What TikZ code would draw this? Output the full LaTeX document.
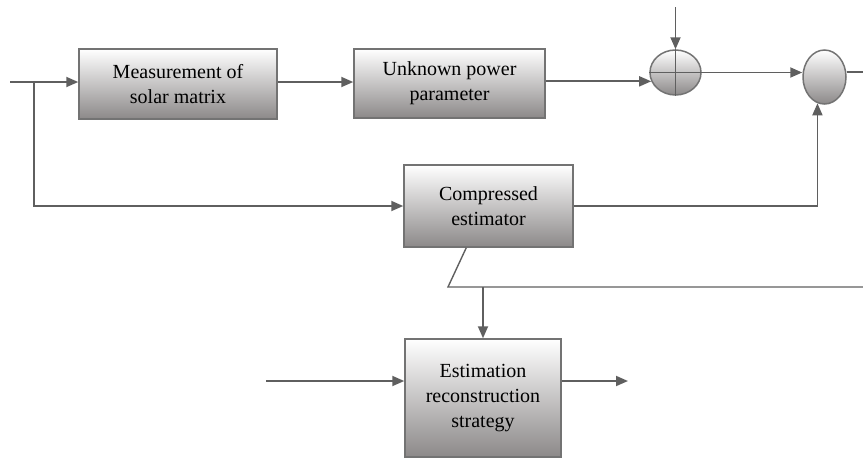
\documentclass[tikz,border=0pt]{standalone}
\usepackage{fontspec}
\setmainfont{Liberation Serif}
\usetikzlibrary{arrows.meta,shapes.geometric,calc}
\definecolor{ln}{RGB}{95,95,95}
\definecolor{bd}{RGB}{115,115,115}
\definecolor{shd}{RGB}{140,137,137}
\begin{document}
\begin{tikzpicture}[x=1pt,y=-1pt,
  blk/.style={draw=bd, line width=1.5pt, top color=white, bottom color=shd, align=center,
    inner sep=0pt, font=\fontsize{20}{25}\selectfont},
  sumell/.style={ellipse, draw=bd, line width=1.5pt, top color=white, bottom color=shd, inner sep=0pt},
  ln/.style={draw=ln, line width=1.8pt},
  arr/.style={ln, -{Triangle[length=12pt,width=10pt]}}]
\useasboundingbox (0,0) rectangle (863,459);
% blocks
\node[blk, minimum width=198pt, minimum height=70pt] (b1) at (178,84) {Measurement of\\solar matrix};
\node[blk, minimum width=191pt, minimum height=69pt] (b2) at (449.5,83.5) {Unknown power\\parameter};
\node[blk, minimum width=169pt, minimum height=82pt] (ce) at (488.5,206) {Compressed\\estimator};
\node[blk, minimum width=156pt, minimum height=118pt] (es) at (483,398) {Estimation\\reconstruction\\strategy};
\node[sumell, minimum width=51pt, minimum height=45pt] (s1) at (675.5,72.5) {};
\node[sumell, minimum width=43pt, minimum height=54pt] (s2) at (824.5,77) {};
% coordinates
\coordinate (in) at (10,82);
\coordinate (br) at (34,82);
\coordinate (top) at (675.5,7);
\coordinate (out2) at (863,72);
\coordinate (kink) at (448,287);
\coordinate (outr) at (863,287);
\coordinate (in3) at (266,381);
\coordinate (out3) at (628,381);
% cross
\draw[ln] (s1.north) -- (s1.south);
\draw[ln] (s1.west) -- (s1.east);
% connectors
\draw[arr] (in) -- (b1.west |- in);
\draw[arr] (b1.east |- in) -- (b2.west |- in);
\draw[arr] (b2.east |- s1.200) -- (s1.200);
\draw[arr] (top) -- (s1.north);
\draw[arr] (s1.east) -- (s1.east -| s2.west);
\draw[ln] (out2 -| s2.east) -- (out2);
\draw[arr] (br) -- (br |- ce.west) -- (ce.west);
\draw[arr] (ce.east) -| (s2.255);
\draw[ln, line width=1.4pt] ($(ce.south west)+(63,0)$) -- (kink) -- (outr);
\draw[arr] (es.north |- kink) -- (es.north);
\draw[arr] (in3) -- (in3 -| es.west);
\draw[arr] (es.east |- in3) -- (out3);
\end{tikzpicture}
\end{document}
